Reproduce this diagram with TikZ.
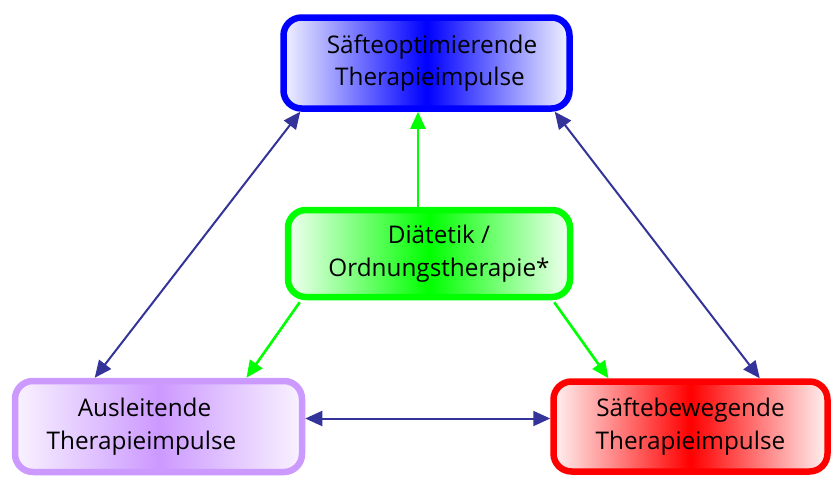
\documentclass[tikz,border=0pt]{standalone}
\usepackage{fontspec}
\setmainfont{Open Sans}
\usetikzlibrary{arrows.meta, positioning, calc}
\definecolor{optcolor}{RGB}{0, 0, 255}
\definecolor{dietcolor}{RGB}{0, 255, 0}
\definecolor{auscolor}{RGB}{204, 153, 255}
\definecolor{bewcolor}{RGB}{255, 0, 0}
\definecolor{linkcolor}{RGB}{51, 51, 153}

\begin{document}
\begin{tikzpicture}[
    x=1pt, y=-1pt,
    >={Triangle[length=17pt, width=15pt]},
    box/.style={rectangle, draw, rounded corners=18pt, minimum width=286pt, minimum height=91pt, align=center, font=\fontsize{24.3}{32.5}\selectfont, line width=6.5pt, execute at begin node={\rule{0pt}{27pt}}},
    linkarrow/.style={<->, line width=2pt, linkcolor},
    dietarrow/.style={->, line width=2.6pt, dietcolor}
]
\useasboundingbox (0,0) rectangle (831,477);

% ========== BOXES ==========
\node[box, draw=optcolor, left color=optcolor!5, right color=optcolor!5, middle color=optcolor] (opt) at (426.5,63) {
    \hspace*{11pt}Säfteoptimierende\\
    \hspace*{7pt}Therapieimpulse
};

\node[box, draw=dietcolor, left color=dietcolor!5, right color=dietcolor!5, middle color=dietcolor, minimum width=282pt, minimum height=87pt] (diet) at (429,253.5) {
    \hspace*{20pt}Diätetik /\\
    \hspace*{20pt}Ordnungstherapie*
};

\node[box, draw=auscolor, left color=auscolor!12, right color=auscolor!12, middle color=auscolor, minimum width=287pt] (aus) at (158.5,426.5) {
    Ausleitende\hspace*{28pt}\\
    Therapieimpulse\hspace*{34pt}
};

\node[box, draw=bewcolor, left color=bewcolor!5, right color=bewcolor!5, middle color=bewcolor, minimum width=274pt, minimum height=90pt] (bew) at (690.5,426.5) {
    Säftebewegende\\
    Therapieimpulse
};

% ========== ARROWS ==========
% Diaetetik to the three impulses
\draw[dietarrow] ([xshift=-11pt]diet.north) -- ([xshift=-11pt]diet.north |- opt.south);
\draw[dietarrow] ([xshift=15pt, yshift=-2pt]diet.south west) -- ([xshift=88pt]aus.north);
\draw[dietarrow] ([xshift=-19pt, yshift=-2pt]diet.south east) -- ([xshift=-82pt]bew.north);

% Between the impulses
\draw[linkarrow] ([xshift=20pt]opt.south west) -- ([xshift=83pt]aus.north west);
\draw[linkarrow] ([xshift=-18pt]opt.south east) -- ([xshift=-71pt]bew.north east);
\draw[linkarrow] ([yshift=8pt]aus.east) -- ([yshift=8pt]bew.west);

\end{tikzpicture}
\end{document}
